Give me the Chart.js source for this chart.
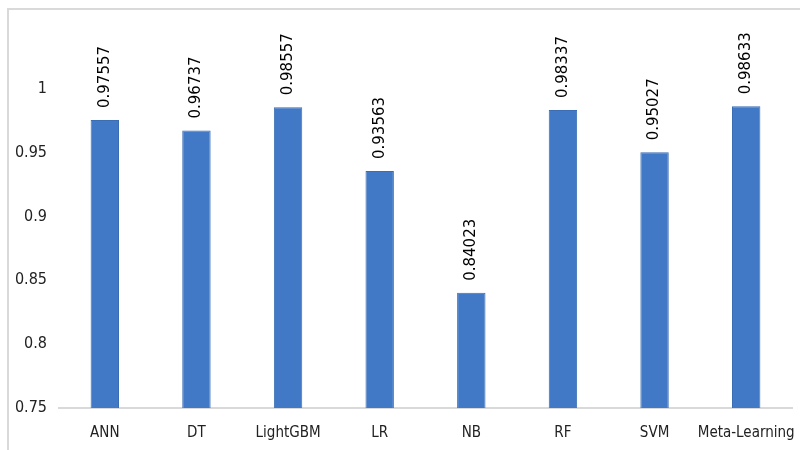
<!DOCTYPE html>
<html>
<head>
<meta charset="utf-8">
<script src="https://cdn.jsdelivr.net/npm/chart.js@4"></script>
<style>
  html, body { margin: 0; padding: 0; background: #fff; }
  #wrap { position: relative; width: 800px; height: 450px; }
  #frame { position: absolute; left: 7px; top: 8px; right: 0; bottom: 0;
           border-top: 2px solid #d9d9d9; border-left: 2px solid #d9d9d9; }
  canvas { position: absolute; left: 0; top: 0; }
</style>
</head>
<body>
<div id="wrap">
  <div id="frame"></div>
  <canvas id="chart" width="800" height="450"></canvas>
</div>
<script>
const models = ["ANN", "DT", "LightGBM", "LR", "NB", "RF", "SVM", "Meta-Learning"];
const scores = [0.97557, 0.96737, 0.98557, 0.93563, 0.84023, 0.98337, 0.95027, 0.98633];
const yTicks = [0.75, 0.8, 0.85, 0.9, 0.95, 1];

// rotated value labels above each bar
const valueLabels = {
  id: "valueLabels",
  afterDatasetsDraw(chart) {
    const ctx = chart.ctx;
    const meta = chart.getDatasetMeta(0);
    ctx.save();
    ctx.fillStyle = "#000";
    ctx.font = "15px 'DejaVu Sans', Verdana, sans-serif";
    ctx.textAlign = "left";
    ctx.textBaseline = "middle";
    meta.data.forEach((bar, i) => {
      ctx.save();
      ctx.translate(bar.x, bar.y - 12);
      ctx.rotate(-Math.PI / 2);
      ctx.fillText(String(scores[i]), 0, 0);
      ctx.restore();
    });
    ctx.restore();
  }
};

new Chart(document.getElementById("chart"), {
  type: "bar",
  data: {
    labels: models,
    datasets: [
      {
        data: scores,
        backgroundColor: "#4179c6",
        borderColor: "#3a6db3",
        borderWidth: 1,
        barPercentage: 0.31,
        categoryPercentage: 1,
      },
    ],
  },
  options: {
    responsive: false,
    animation: false,
    layout: { padding: { left: 0, right: 8, top: 25, bottom: 0 } },
    plugins: { legend: { display: false }, tooltip: { enabled: false } },
    scales: {
      x: {
        grid: { display: false, drawTicks: false },
        border: { display: true, color: "#d9d9d9", width: 2 },
        ticks: {
          color: "#222",
          padding: 16,
          maxRotation: 0,
          autoSkip: false,
          font: { family: "'Liberation Sans Narrow', 'DejaVu Sans Condensed', sans-serif", size: 15 },
        },
        afterFit: (s) => { s.height = 42; s.paddingLeft = 0; s.paddingRight = 0; },
      },
      y: {
        min: 0.75,
        max: 1.05,
        afterBuildTicks: (s) => { s.ticks = yTicks.map((v) => ({ value: v })); },
        grid: { display: false, drawTicks: false },
        border: { display: false },
        ticks: {
          color: "#222",
          padding: 12,
          callback: (v) => String(v),
          font: { family: "'Liberation Sans Narrow', 'DejaVu Sans Condensed', sans-serif", size: 16 },
        },
        afterFit: (s) => { s.width = 59; },
      },
    },
  },
  plugins: [valueLabels],
});
</script>
</body>
</html>
